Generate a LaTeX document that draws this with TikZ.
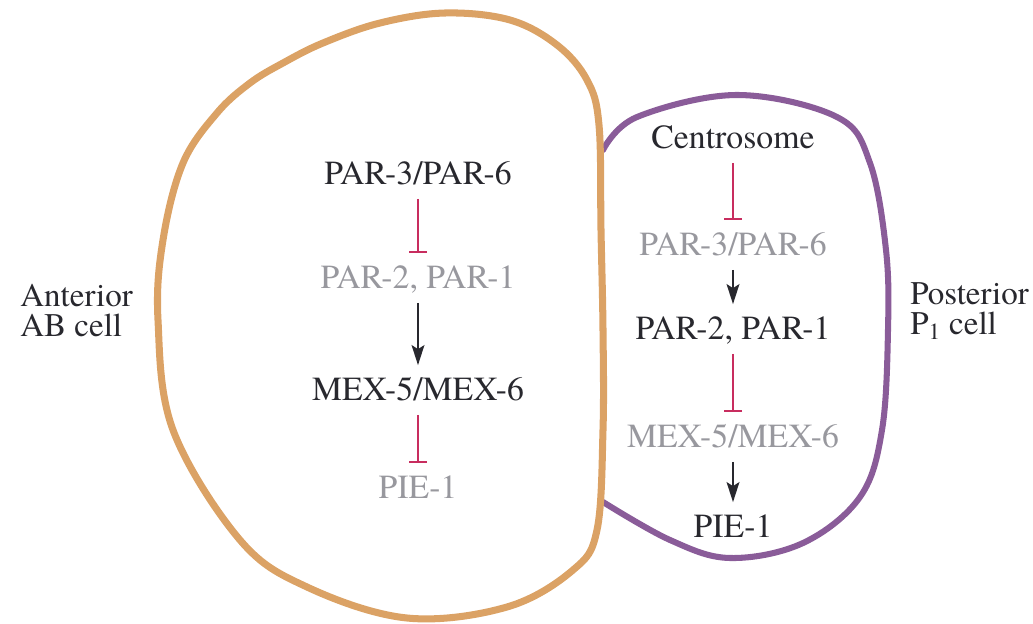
\documentclass[tikz,border=0pt]{standalone}
\usepackage{fontspec}
\setmainfont{TeX Gyre Termes}
\usetikzlibrary{arrows.meta,positioning}
\definecolor{abcol}{RGB}{219,162,101}
\definecolor{pcol}{RGB}{138,92,153}
\definecolor{inhcol}{RGB}{200,45,95}
\definecolor{offcol}{RGB}{152,152,158}
\definecolor{oncol}{RGB}{40,40,46}
\tikzset{
	gene/.style={text=oncol, font=\fontsize{24}{28}\selectfont, inner xsep=0pt, inner ysep=0.35cm, text height=0.53cm, text depth=0pt},
	geneoff/.style={gene, text=offcol},
	act/.style={-{Stealth[length=0.5cm,width=0.32cm,inset=0.1cm]}, line width=1.3pt, draw=oncol},
	inh/.style={-{Bar[width=0.45cm,line width=1.4pt]}, line width=1pt, draw=inhcol},
	celllabel/.style={text=oncol, font=\fontsize{23.5}{21.3}\selectfont, align=left, inner sep=0pt, anchor=west},
}

\begin{document}
\begin{tikzpicture}[x=0.025cm,y=-0.025cm]
			%\draw[step=50,black,very thin] (0,0) grid (1033,624);
			\useasboundingbox (0,0) rectangle (1033,624);
			% P1 cell, drawn first so the AB cell covers the join
			\draw[pcol, line width=4.3pt, line cap=round] plot[smooth, tension=0.6] coordinates {(603,150) (637,117) (737,95) (837,117) (870,163) (886,250) (888,330) (882,430) (860,497) (803,543) (730,558) (670,540) (603,502)};
			% AB cell
			\draw[abcol, line width=5pt] plot[smooth cycle, tension=0.6] coordinates {(445,13) (510,20) (557,45) (587,80) (599,125) (601,230) (603,330) (603,430) (597,530) (573,570) (507,607) (407,618) (307,587) (240,540) (173,430) (158,320) (163,240) (183,163) (217,113) (250,83) (283,63) (323,43) (380,23)};

			% anterior chain
			\node[gene] (aPar3) at (418,174) {PAR-3/PAR-6};
			\node[geneoff] (aPar2) at (418,278) {PAR-2, PAR-1};
			\node[gene] (aMex) at (418,390) {MEX-5/MEX-6};
			\node[geneoff] (aPie) at (418,488) {PIE-1};
			\draw[inh] (aPar3) -- (aPar2);
			\draw[act] (aPar2) -- (aMex);
			\draw[inh] (aMex) -- (aPie);

			% posterior chain
			\node[gene] (pCen) at (733,138) {Centrosome};
			\node[geneoff] (pPar3) at (733,245) {PAR-3/PAR-6};
			\node[gene] (pPar2) at (733,329) {PAR-2, PAR-1};
			\node[geneoff] (pMex) at (733,437) {MEX-5/MEX-6};
			\node[gene] (pPie) at (733,527) {PIE-1};
			\draw[inh] (pCen) -- (pPar3);
			\draw[act] (pPar3) -- (pPar2);
			\draw[inh] (pPar2) -- (pMex);
			\draw[act] (pMex) -- (pPie);

			\node[celllabel] (abLabel) at (20,311) {Anterior\\AB cell};
			\node[celllabel] (p1Label) at (910,311) {Posterior\\P\textsubscript{1} cell};
		\end{tikzpicture}
\end{document}
